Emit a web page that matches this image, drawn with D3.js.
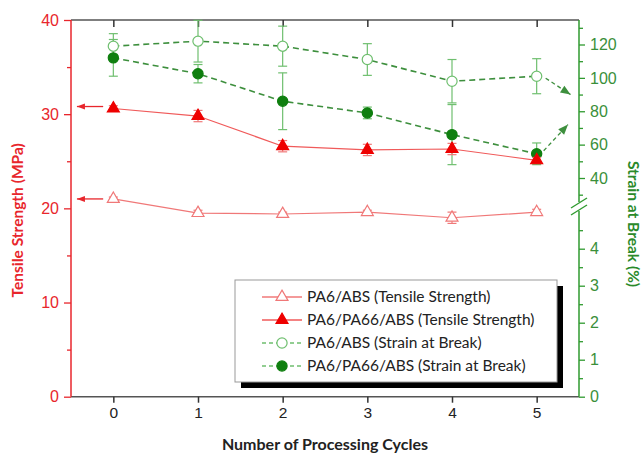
<!DOCTYPE html>
<html>
<head>
<meta charset="utf-8">
<script src="https://cdn.jsdelivr.net/npm/d3@7/dist/d3.min.js"></script>
<style>
  html, body { margin: 0; padding: 0; background: #fff; }
  svg { display: block; }
</style>
</head>
<body>
<svg id="chart" width="642" height="455"></svg>
<script>
// Processing cycles on the x axis
const cycles = [0, 1, 2, 3, 4, 5];
const xTicks = [0, 1, 2, 3, 4, 5];

// Tensile strength (MPa) with standard deviations
const tsPA6ABS = [21.0, 19.5, 19.4, 19.6, 19.0, 19.6];
const tsPA6ABSErr = [0.2, 0.3, 0.2, 0.2, 0.6, 0.3];
const tsPA6PA66ABS = [30.6, 29.8, 26.6, 26.2, 26.3, 25.1];
const tsPA6PA66ABSErr = [0.3, 0.6, 0.6, 0.6, 0.6, 0.3];

// Strain at break (%) with standard deviations
const sbPA6ABS = [119, 122, 119, 111, 98, 101];
const sbPA6ABSErr = [7.5, 12.5, 12, 9.5, 13, 10.5];
const sbPA6PA66ABS = [112, 102.5, 86, 79, 66, 54.5];
const sbPA6PA66ABSErr = [11, 5.5, 17, 3.5, 18, 6.5];

// Axis ticks
const leftMajor = [0, 10, 20, 30, 40];
const leftMinor = [5, 15, 25, 35];
const rightUpperMajor = [40, 60, 80, 100, 120];
const rightUpperMinor = [30, 50, 70, 90, 110, 130];
const rightLowerMajor = [0, 1, 2, 3, 4];
const rightLowerMinor = [0.5, 1.5, 2.5, 3.5, 4.5];

const legendLabels = [
  "PA6/ABS (Tensile Strength)",
  "PA6/PA66/ABS (Tensile Strength)",
  "PA6/ABS (Strain at Break)",
  "PA6/PA66/ABS (Strain at Break)"
];

const RED = "#e8262c";
const PINK = "#f07878";
const GREEN_AX = "#2f9a2f";
const GREEN_DARK = "#0f7f0f";
const GREEN_LIGHT = "#6fbf6f";
const GREEN_DASH = "#3d8f3d";
const GREY = "#555";

const L = 71, R = 579, T = 20, B = 396.7;
const breakTop = 202, breakBot = 211;

const svg = d3.select("#chart");

const x = d3.scaleLinear().domain([-0.5, 5.5]).range([L, R]);
const yT = d3.scaleLinear().domain([0, 40]).range([B, T]);
// Broken right axis: upper part for the measured strains, lower part down to zero
const yU = d3.scaleLinear().domain([40, 120]).range([178, 44.5]);
const yLo = d3.scaleLinear().domain([0, 4]).range([B, 248.7]);

const tickFont = "'Liberation Sans', Arial, sans-serif";
const textFont = "Lato, 'Open Sans', sans-serif";

// Frame: top line
svg.append("line").attr("x1", L).attr("x2", R).attr("y1", T).attr("y2", T)
  .attr("stroke", GREY).attr("stroke-width", 1.5);

// Bottom axis
const xAxis = d3.axisBottom(x).tickValues(xTicks).tickSize(6).tickPadding(4).tickFormat(d3.format("d"));
const gx = svg.append("g").attr("transform", `translate(0,${B})`).call(xAxis);
gx.select(".domain").attr("stroke", GREY).attr("stroke-width", 1.5).attr("d", `M${L},0H${R}`);
gx.selectAll(".tick line").attr("stroke", "#333").attr("stroke-width", 1.5);
gx.selectAll(".tick text").attr("font-family", tickFont).attr("font-size", 15.5).attr("fill", "#222");

// Top axis ticks (inward)
const xTop = d3.axisBottom(x).tickValues(xTicks).tickSize(7).tickFormat("");
const gxt = svg.append("g").attr("transform", `translate(0,${T})`).call(xTop);
gxt.select(".domain").remove();
gxt.selectAll(".tick line").attr("stroke", "#333").attr("stroke-width", 1.5);

// Left axis (tensile strength)
const yAxisL = d3.axisLeft(yT).tickValues(leftMajor).tickSize(7).tickPadding(5);
const gl = svg.append("g").attr("transform", `translate(${L},0)`).call(yAxisL);
gl.select(".domain").attr("stroke", RED).attr("stroke-width", 1.5).attr("d", `M0,${B}V${T}`);
gl.selectAll(".tick line").attr("stroke", RED).attr("stroke-width", 1.3);
gl.selectAll(".tick text").attr("font-family", tickFont).attr("font-size", 16).attr("fill", RED);
const glm = svg.append("g").attr("transform", `translate(${L},0)`)
  .call(d3.axisLeft(yT).tickValues(leftMinor).tickSize(4).tickFormat(""));
glm.select(".domain").remove();
glm.selectAll(".tick line").attr("stroke", RED).attr("stroke-width", 1.3);

// Right axis sections
function rightAxis(scale, major, minor, y0, y1) {
  const g = svg.append("g").attr("transform", `translate(${R},0)`)
    .call(d3.axisRight(scale).tickValues(major).tickSize(6).tickPadding(5).tickFormat(d3.format("d")));
  g.select(".domain").attr("stroke", GREEN_AX).attr("stroke-width", 1.5).attr("d", `M0,${y0}V${y1}`);
  g.selectAll(".tick line").attr("stroke", GREEN_AX).attr("stroke-width", 1.3);
  g.selectAll(".tick text").attr("font-family", tickFont).attr("font-size", 16).attr("fill", "#3a8f3a");
  const gm = svg.append("g").attr("transform", `translate(${R},0)`)
    .call(d3.axisRight(scale).tickValues(minor).tickSize(4).tickFormat(""));
  gm.select(".domain").remove();
  gm.selectAll(".tick line").attr("stroke", GREEN_AX).attr("stroke-width", 1.3);
}
rightAxis(yU, rightUpperMajor, rightUpperMinor, T, breakTop);
rightAxis(yLo, rightLowerMajor, rightLowerMinor, breakBot, B);

// Axis break marks
[breakTop + 1, breakBot - 1].forEach(yb => {
  svg.append("line").attr("x1", R - 8).attr("y1", yb + 5).attr("x2", R + 8).attr("y2", yb - 5)
    .attr("stroke", GREEN_AX).attr("stroke-width", 1.4);
});

// Axis titles
svg.append("text").attr("transform", `translate(23,${(T + B) / 2 + 12}) rotate(-90)`)
  .attr("text-anchor", "middle").attr("font-family", textFont).attr("font-weight", "bold")
  .attr("font-size", 15.5).attr("fill", RED).text("Tensile Strength (MPa)");
svg.append("text").attr("transform", `translate(628,224) rotate(90)`)
  .attr("text-anchor", "middle").attr("font-family", textFont).attr("font-weight", "bold")
  .attr("font-size", 15.5).attr("fill", "#2a8a2a").text("Strain at Break (%)");
svg.append("text").attr("x", 325).attr("y", 450)
  .attr("text-anchor", "middle").attr("font-family", textFont).attr("font-weight", "bold")
  .attr("font-size", 16).attr("fill", "#222").text("Number of Processing Cycles");

// Helpers
const triPath = d3.symbol().type(d3.symbolTriangle).size(62)();
const circPath = d3.symbol().type(d3.symbolCircle).size(82)();

function errorBars(vals, errs, scale, color) {
  const g = svg.append("g").attr("stroke", color).attr("stroke-width", 1.2);
  cycles.forEach((c, i) => {
    const cx = x(c), hi = scale(vals[i] + errs[i]), lo = scale(vals[i] - errs[i]);
    g.append("line").attr("x1", cx).attr("x2", cx).attr("y1", hi).attr("y2", lo);
    g.append("line").attr("x1", cx - 4.5).attr("x2", cx + 4.5).attr("y1", hi).attr("y2", hi);
    g.append("line").attr("x1", cx - 4.5).attr("x2", cx + 4.5).attr("y1", lo).attr("y2", lo);
  });
}
function seriesLine(vals, scale, color, dash, width) {
  const line = d3.line().x((d, i) => x(cycles[i])).y(d => scale(d));
  svg.append("path").datum(vals).attr("d", line).attr("fill", "none")
    .attr("stroke", color).attr("stroke-width", width)
    .attr("stroke-dasharray", dash || null);
}
function markers(vals, scale, path, fill, stroke) {
  svg.append("g").selectAll("path").data(vals).join("path")
    .attr("d", path)
    .attr("transform", (d, i) => `translate(${x(cycles[i])},${scale(d)})`)
    .attr("fill", fill).attr("stroke", stroke).attr("stroke-width", 1.2);
}

// Strain at break (dashed green)
errorBars(sbPA6ABS, sbPA6ABSErr, yU, GREEN_LIGHT);
errorBars(sbPA6PA66ABS, sbPA6PA66ABSErr, yU, GREEN_LIGHT);
seriesLine(sbPA6ABS, yU, GREEN_DASH, "6,4", 1.6);
seriesLine(sbPA6PA66ABS, yU, GREEN_DASH, "6,4", 1.6);
markers(sbPA6ABS, yU, circPath, "#fff", GREEN_LIGHT);
markers(sbPA6PA66ABS, yU, circPath, GREEN_DARK, GREEN_DARK);

// Tensile strength (solid red)
errorBars(tsPA6ABS, tsPA6ABSErr, yT, PINK);
errorBars(tsPA6PA66ABS, tsPA6PA66ABSErr, yT, PINK);
seriesLine(tsPA6ABS, yT, PINK, null, 1.2);
seriesLine(tsPA6PA66ABS, yT, "#f05a5a", null, 1.2);
markers(tsPA6ABS, yT, triPath, "#fff", PINK);
markers(tsPA6PA66ABS, yT, triPath, "#ee0000", "#ee0000");

// Arrows pointing each series to its axis
function arrow(x1, y1, x2, y2, color, dash, head) {
  svg.append("line").attr("x1", x1).attr("y1", y1).attr("x2", x2).attr("y2", y2)
    .attr("stroke", color).attr("stroke-width", 1.3).attr("stroke-dasharray", dash || null);
  const a = Math.atan2(y2 - y1, x2 - x1);
  const len = head[0], hw = head[1];
  const bx = x2 - len * Math.cos(a), by = y2 - len * Math.sin(a);
  const px = -Math.sin(a) * hw, py = Math.cos(a) * hw;
  svg.append("path")
    .attr("d", `M${x2},${y2}L${bx + px},${by + py}L${bx - px},${by - py}Z`)
    .attr("fill", color);
}
arrow(x(-0.12), yT(tsPA6PA66ABS[0]) - 2, x(-0.43), yT(tsPA6PA66ABS[0]) - 2, RED, null, [8, 3]);
arrow(x(-0.12), yT(tsPA6ABS[0]), x(-0.43), yT(tsPA6ABS[0]), RED, null, [8, 3]);
const last = cycles.length - 1;
arrow(x(cycles[last]) + 9, yU(sbPA6ABS[last]) + 2, x(5.4), yU(90), GREEN_DASH, "4,3", [10, 4]);
arrow(x(cycles[last]) + 7, yU(sbPA6PA66ABS[last]) - 3, x(5.37), yU(72), GREEN_DASH, "4,3", [10, 4]);

// Legend with drop shadow
const lg = { x: 235, y: 280, w: 322, h: 102 };
svg.append("rect").attr("x", lg.x + 6).attr("y", lg.y + 6).attr("width", lg.w).attr("height", lg.h).attr("fill", "#000");
svg.append("rect").attr("x", lg.x).attr("y", lg.y).attr("width", lg.w).attr("height", lg.h)
  .attr("fill", "#fff").attr("stroke", "#999").attr("stroke-width", 1);
const legendStyles = [
  { color: PINK, dash: null, path: triPath, fill: "#fff", stroke: PINK },
  { color: "#f05a5a", dash: null, path: triPath, fill: "#ee0000", stroke: "#ee0000" },
  { color: GREEN_LIGHT, dash: "4,3", path: circPath, fill: "#fff", stroke: GREEN_LIGHT },
  { color: GREEN_LIGHT, dash: "4,3", path: circPath, fill: GREEN_DARK, stroke: GREEN_DARK }
];
legendLabels.forEach((lab, i) => {
  const cy = lg.y + 17 + i * 23;
  const st = legendStyles[i];
  svg.append("line").attr("x1", lg.x + 27).attr("x2", lg.x + 67).attr("y1", cy).attr("y2", cy)
    .attr("stroke", st.color).attr("stroke-width", 1.3).attr("stroke-dasharray", st.dash);
  svg.append("path").attr("d", st.path).attr("transform", `translate(${lg.x + 47},${cy})`)
    .attr("fill", st.fill).attr("stroke", st.stroke).attr("stroke-width", 1.2);
  svg.append("text").attr("x", lg.x + 72).attr("y", cy).attr("dy", "0.35em")
    .attr("font-family", textFont).attr("font-size", 15.5).attr("fill", "#222").text(lab);
});
</script>
</body>
</html>
